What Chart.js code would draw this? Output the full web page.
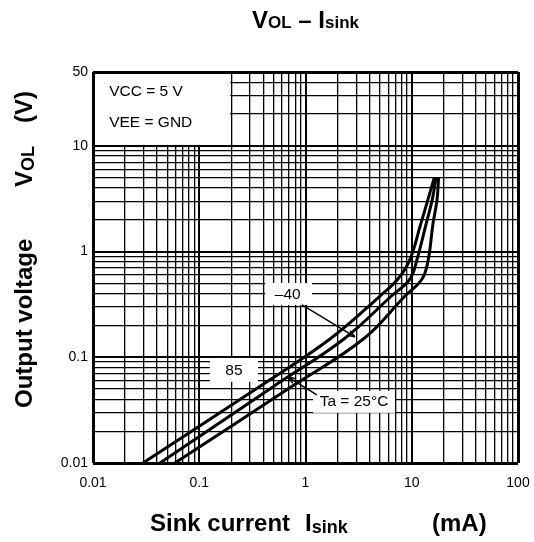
<!DOCTYPE html>
<html>
<head>
<meta charset="utf-8">
<script src="https://cdn.jsdelivr.net/npm/chart.js@4.4.1/dist/chart.umd.min.js"></script>
<style>
  html, body { margin: 0; padding: 0; background: #fff; }
  #wrap { width: 534px; height: 542px; }
</style>
</head>
<body>
<div id="wrap"><canvas id="chart"></canvas></div>
<script>
// VOL - Isink, three ambient temperatures (log-log)
const FONT = '"Liberation Sans", Arial, Helvetica, sans-serif';

// sink current (mA) and output voltage (V)
const sink85 = [0.0295, 0.35, 1.7, 5.0, 7.4, 9.6, 12.1, 14.2, 16.3];
const vol85  = [0.01, 0.051, 0.149, 0.378, 0.55, 0.84, 1.8, 3.1, 5.0];

const sink25 = [0.0427, 0.50, 2.3, 6.4, 9.6, 11.2, 13.6, 15.6, 16.9];
const vol25  = [0.01, 0.053, 0.149, 0.378, 0.55, 0.84, 1.8, 3.1, 5.0];

const sinkM40 = [0.059, 0.70, 3.5, 8.6, 12.5, 14.3, 15.8, 17.3, 17.9];
const volM40  = [0.01, 0.051, 0.149, 0.378, 0.55, 0.84, 1.8, 3.1, 5.0];

// grid lines and labelled ticks
const xGrid = [0.01, 0.02, 0.03, 0.04, 0.05, 0.06, 0.07, 0.08, 0.09,
               0.1, 0.2, 0.3, 0.4, 0.5, 0.6, 0.7, 0.8, 0.9,
               1, 2, 3, 4, 5, 6, 7, 8, 9,
               10, 20, 30, 40, 50, 60, 70, 80, 90, 100];
const yGrid = [0.01, 0.02, 0.03, 0.04, 0.05, 0.06, 0.07, 0.08, 0.09,
               0.1, 0.2, 0.3, 0.4, 0.5, 0.6, 0.7, 0.8, 0.9,
               1, 2, 3, 4, 5, 6, 7, 8, 9,
               10, 20, 30, 40, 50];
const xTickValues = [0.01, 0.1, 1, 10, 100];
const xTickLabels = ['0.01', '0.1', '1', '10', '100'];
const yTickValues = [0.01, 0.1, 1, 10, 50];
const yTickLabels = ['0.01', '0.1', '1', '10', '50'];

function pts(xs, ys) {
  return xs.map((x, i) => ({ x: x, y: ys[i] }));
}

function gridWidth(ctx, edges) {
  const v = ctx.tick.value;
  if (edges.includes(v)) return 3;
  const l = Math.log10(v);
  if (Math.abs(l - Math.round(l)) < 1e-6) return 2;
  return 1.3;
}

// white label boxes, texts and leader lines (data coordinates)
const notes = {
  boxes: [
    { x0: 0.01, x1: 0.2, y0: 10, y1: 50, inset: true },
    { x0: 0.416, x1: 1.15, y0: 0.313, y1: 0.505 },
    { x0: 0.126, x1: 0.357, y0: 0.0585, y1: 0.0986 },
    { x0: 1.18, x1: 6.95, y0: 0.0298, y1: 0.0481 }
  ],
  texts: [
    { t: 'VCC = 5 V', x: 0.0142, y: 32.4, align: 'left' },
    { t: 'VEE = GND', x: 0.0142, y: 16.5, align: 'left' },
    { t: '\u201340', x: 0.68, y: 0.393, align: 'center' },
    { t: '85', x: 0.212, y: 0.0743, align: 'center' },
    { t: 'Ta = 25\u00b0C', x: 2.86, y: 0.0378, align: 'center' }
  ],
  leaders: [
    { x0: 0.927, y0: 0.313, x1: 2.92, y1: 0.156 },
    { x0: 1.28, y0: 0.044, x1: 0.684, y1: 0.065 }
  ]
};

function drawParts(ctx, parts, x, y) {
  let cx = x;
  parts.forEach(p => {
    ctx.font = (p.bold ? 'bold ' : '') + p.size + 'px ' + FONT;
    ctx.fillText(p.t, cx, y + (p.dy || 0));
    cx += ctx.measureText(p.t).width;
  });
}
function partsWidth(ctx, parts) {
  let w = 0;
  parts.forEach(p => {
    ctx.font = (p.bold ? 'bold ' : '') + p.size + 'px ' + FONT;
    w += ctx.measureText(p.t).width;
  });
  return w;
}

const annotate = {
  id: 'annotate',
  beforeDatasetsDraw(chart) {
    const { ctx, scales: { x, y } } = chart;
    ctx.save();
    ctx.fillStyle = '#fff';
    notes.boxes.forEach(b => {
      let l = x.getPixelForValue(b.x0), r = x.getPixelForValue(b.x1);
      let t = y.getPixelForValue(b.y1), btm = y.getPixelForValue(b.y0);
      if (b.inset) { l += 2; t += 2; r -= 1; btm -= 1; }
      ctx.fillRect(l, t, r - l, btm - t);
    });
    ctx.fillStyle = '#000';
    ctx.font = '15.5px ' + FONT;
    ctx.textBaseline = 'middle';
    notes.texts.forEach(n => {
      ctx.textAlign = n.align;
      ctx.fillText(n.t, x.getPixelForValue(n.x), y.getPixelForValue(n.y));
    });
    ctx.restore();
  },
  afterDatasetsDraw(chart) {
    const { ctx, scales: { x, y } } = chart;
    ctx.save();
    ctx.strokeStyle = '#000';
    ctx.lineWidth = 1.5;
    notes.leaders.forEach(a => {
      const x0 = x.getPixelForValue(a.x0), y0 = y.getPixelForValue(a.y0);
      const x1 = x.getPixelForValue(a.x1), y1 = y.getPixelForValue(a.y1);
      ctx.beginPath();
      ctx.moveTo(x0, y0);
      ctx.lineTo(x1, y1);
      ctx.stroke();
      const ang = Math.atan2(y1 - y0, x1 - x0);
      ctx.beginPath();
      ctx.moveTo(x1, y1);
      ctx.lineTo(x1 - 8 * Math.cos(ang - 0.35), y1 - 8 * Math.sin(ang - 0.35));
      ctx.moveTo(x1, y1);
      ctx.lineTo(x1 - 8 * Math.cos(ang + 0.35), y1 - 8 * Math.sin(ang + 0.35));
      ctx.stroke();
    });
    ctx.restore();
  },
  afterDraw(chart) {
    const { ctx, chartArea } = chart;
    ctx.save();
    ctx.fillStyle = '#000';
    ctx.textAlign = 'left';
    ctx.textBaseline = 'alphabetic';

    // title
    const title = [
      { t: 'V', size: 24, bold: true },
      { t: 'OL', size: 17, bold: true },
      { t: ' \u2013 I', size: 24, bold: true },
      { t: 'sink', size: 17, bold: true }
    ];
    const cx = (chartArea.left + chartArea.right) / 2;
    drawParts(ctx, title, cx - partsWidth(ctx, title) / 2, 28);

    // x axis title
    drawParts(ctx, [{ t: 'Sink current', size: 24, bold: true }], 150, 531);
    drawParts(ctx, [{ t: 'I', size: 24, bold: true }, { t: 'sink', size: 18, bold: true, dy: 2 }], 305, 531);
    drawParts(ctx, [{ t: '(mA)', size: 24, bold: true }], 432, 531);

    // y axis title (rotated)
    ctx.translate(32, 0);
    ctx.rotate(-Math.PI / 2);
    drawParts(ctx, [{ t: 'Output voltage', size: 24, bold: true }], -408, 0);
    drawParts(ctx, [{ t: 'V', size: 24, bold: true }, { t: 'OL', size: 18, bold: true, dy: 2 }], -187, 0);
    drawParts(ctx, [{ t: '(V)', size: 24, bold: true }], -123, 0);
    ctx.restore();
  }
};

const lineStyle = {
  borderColor: '#000',
  borderWidth: 3,
  pointRadius: 0,
  fill: false,
  tension: 0.4
};

new Chart(document.getElementById('chart'), {
  type: 'line',
  data: {
    datasets: [
      Object.assign({ label: '85', data: pts(sink85, vol85) }, lineStyle),
      Object.assign({ label: '25', data: pts(sink25, vol25) }, lineStyle),
      Object.assign({ label: '-40', data: pts(sinkM40, volM40) }, lineStyle)
    ]
  },
  options: {
    responsive: true,
    maintainAspectRatio: false,
    animation: false,
    devicePixelRatio: 1,
    layout: { padding: { left: 0, top: 72, right: 16, bottom: 0 } },
    plugins: {
      legend: { display: false },
      tooltip: { enabled: false },
      title: { display: false }
    },
    scales: {
      x: {
        type: 'logarithmic',
        min: 0.01,
        max: 100,
        afterBuildTicks: s => { s.ticks = xGrid.map(v => ({ value: v })); },
        afterFit: s => { s.height = 79; s.paddingLeft = 0; s.paddingRight = 0; },
        border: { display: false },
        grid: {
          color: '#000',
          lineWidth: c => gridWidth(c, [0.01, 100]),
          drawTicks: false
        },
        ticks: {
          autoSkip: false,
          maxRotation: 0,
          padding: 12,
          color: '#000',
          font: { family: FONT, size: 14 },
          callback: v => {
            const i = xTickValues.indexOf(v);
            return i >= 0 ? xTickLabels[i] : '';
          }
        }
      },
      y: {
        type: 'logarithmic',
        min: 0.01,
        max: 50,
        afterBuildTicks: s => { s.ticks = yGrid.map(v => ({ value: v })); },
        afterFit: s => { s.width = 93; s.paddingTop = 0; s.paddingBottom = 0; },
        border: { display: false },
        grid: {
          color: '#000',
          lineWidth: c => gridWidth(c, [0.01, 50]),
          drawTicks: false
        },
        ticks: {
          autoSkip: false,
          padding: 5,
          color: '#000',
          font: { family: FONT, size: 14 },
          callback: v => {
            const i = yTickValues.indexOf(v);
            return i >= 0 ? yTickLabels[i] : '';
          }
        }
      }
    }
  },
  plugins: [annotate]
});
</script>
</body>
</html>
